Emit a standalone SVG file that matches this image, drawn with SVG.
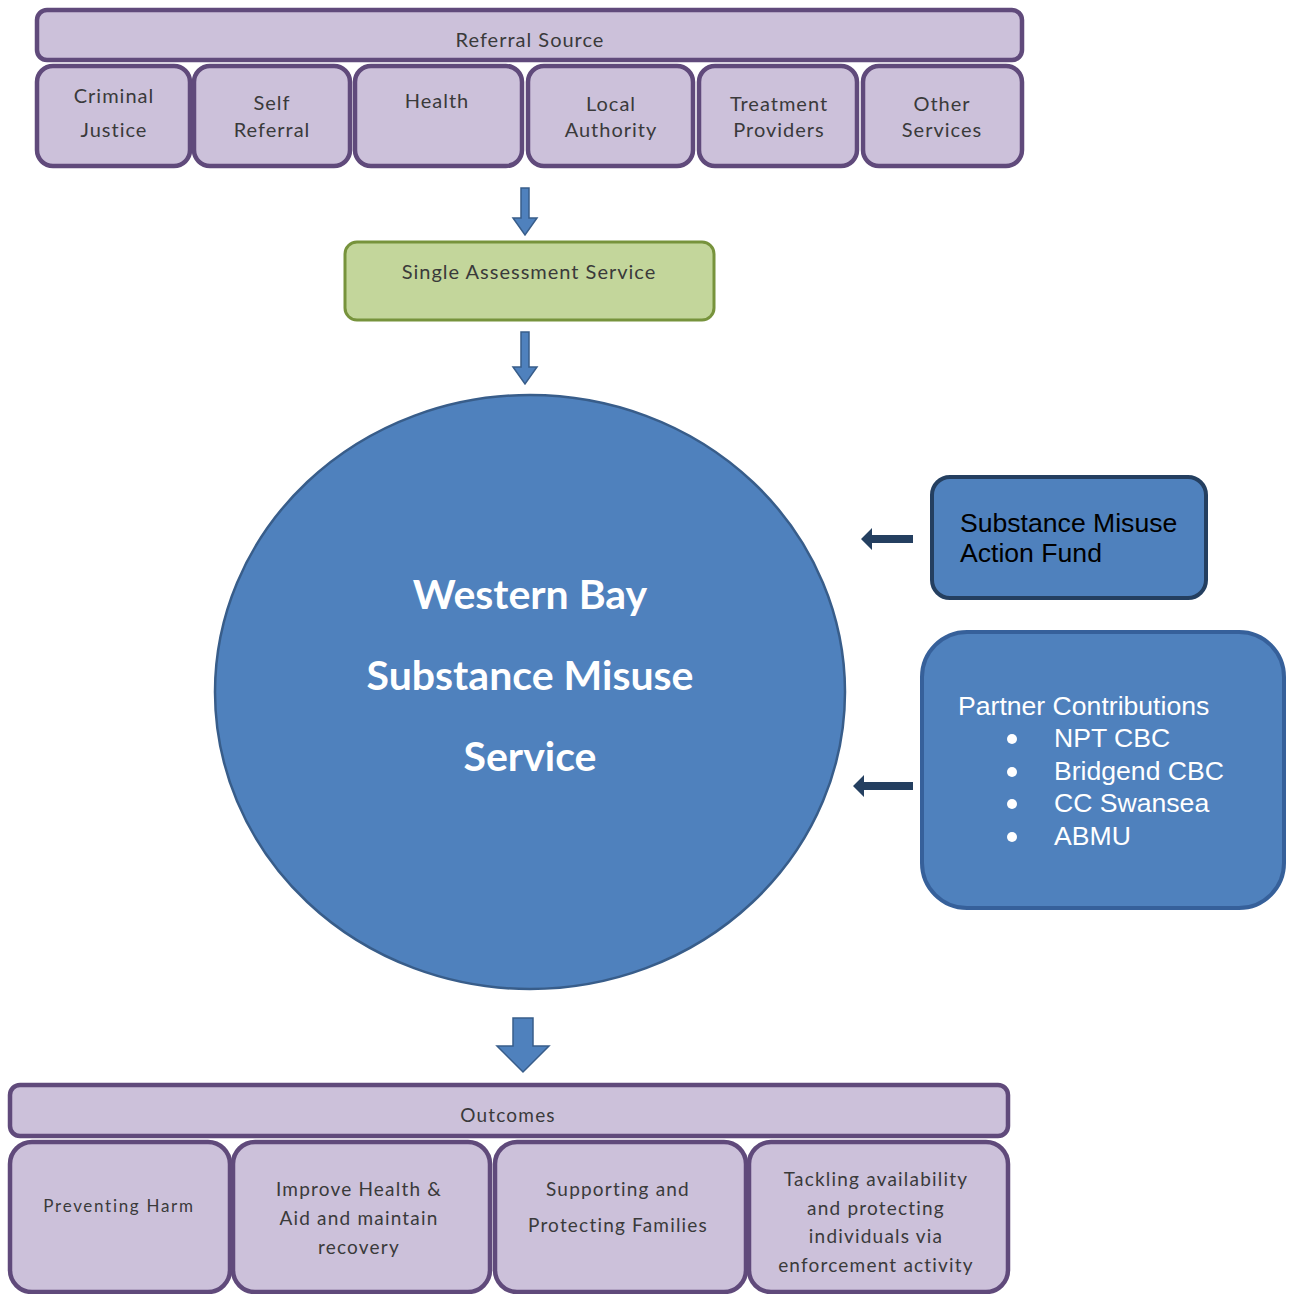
<svg xmlns="http://www.w3.org/2000/svg" width="1294" height="1294" viewBox="0 0 1294 1294">
<defs>
<style>
.pur{fill:#CCC1DA;stroke:#604A7B;stroke-width:4.5}
.pt{font-family:Lato,"Open Sans",sans-serif;font-size:20px;letter-spacing:1px;fill:#3a3a3a;text-anchor:middle}
.ot{font-family:Lato,"Open Sans",sans-serif;font-size:19px;letter-spacing:1.2px;fill:#3a3a3a;text-anchor:middle}
.barrow{fill:#4F81BD;stroke:#385D8A;stroke-width:1.5}
.darrow{fill:#243F60}
.wt{font-family:Lato,"Open Sans",sans-serif;font-weight:bold;font-size:41px;fill:#fff;text-anchor:middle}
.at{font-family:"Liberation Sans",Arial,sans-serif;font-size:26.6px}
</style>
</defs>
<rect width="1294" height="1294" fill="#fff"/>
<g id="referral-source">
<rect class="pur" x="37" y="10" width="985" height="50" rx="10"/>
<text class="pt" x="530" y="47">Referral Source</text>
</g>
<g id="criminal-justice"><rect class="pur" x="37" y="66" width="153" height="100" rx="16"/><text class="pt" x="114" y="103">Criminal</text><text class="pt" x="114" y="137">Justice</text></g>
<g id="self-referral"><rect class="pur" x="194" y="66" width="156" height="100" rx="16"/><text class="pt" x="272" y="110">Self</text><text class="pt" x="272" y="137">Referral</text></g>
<g id="health"><rect class="pur" x="355" y="66" width="167" height="100" rx="16"/><text class="pt" x="437" y="108">Health</text></g>
<g id="local-authority"><rect class="pur" x="528" y="66" width="165" height="100" rx="16"/><text class="pt" x="611" y="111">Local</text><text class="pt" x="611" y="137">Authority</text></g>
<g id="treatment-providers"><rect class="pur" x="699" y="66" width="158" height="100" rx="16"/><text class="pt" x="779" y="111">Treatment</text><text class="pt" x="779" y="137">Providers</text></g>
<g id="other-services"><rect class="pur" x="863" y="66" width="159" height="100" rx="16"/><text class="pt" x="942" y="111">Other</text><text class="pt" x="942" y="137">Services</text></g>
<g id="single-assessment">
<rect x="345" y="242" width="369" height="78" rx="12" fill="#C3D69B" stroke="#77933C" stroke-width="3"/>
<text x="529" y="279" style="font-family:Lato,'Open Sans',sans-serif;font-size:20px;letter-spacing:1px;fill:#3a3a3a;text-anchor:middle">Single Assessment Service</text>
</g>
<g id="western-bay">
<ellipse cx="530" cy="692" rx="315" ry="297" fill="#4F81BD" stroke="#385D8A" stroke-width="2.5"/>
<text class="wt" x="530" y="609">Western Bay</text>
<text class="wt" x="530" y="690">Substance Misuse</text>
<text class="wt" x="530" y="771">Service</text>
</g>
<g id="action-fund">
<rect x="932" y="477" width="274" height="121" rx="18" fill="#4F81BD" stroke="#243F60" stroke-width="4"/>
<text class="at" x="960" y="532" fill="#000">Substance Misuse</text>
<text class="at" x="960" y="562" fill="#000">Action Fund</text>
</g>
<g id="partner-contributions">
<rect x="922" y="632" width="362" height="276" rx="45" fill="#4F81BD" stroke="#36609A" stroke-width="4"/>
<text class="at" x="958" y="715" fill="#fff">Partner Contributions</text>
<g fill="#fff">
<circle cx="1012" cy="739" r="5"/><circle cx="1012" cy="772" r="5"/><circle cx="1012" cy="804" r="5"/><circle cx="1012" cy="837" r="5"/>
</g>
<text class="at" x="1054" y="747" fill="#fff">NPT CBC</text>
<text class="at" x="1054" y="780" fill="#fff">Bridgend CBC</text>
<text class="at" x="1054" y="812" fill="#fff">CC Swansea</text>
<text class="at" x="1054" y="845" fill="#fff">ABMU</text>
</g>
<g id="outcomes">
<rect class="pur" x="10" y="1085" width="998" height="51" rx="10"/>
<text class="ot" x="508" y="1122">Outcomes</text>
</g>
<g id="preventing-harm"><rect class="pur" x="10" y="1142" width="220" height="150" rx="22"/><text class="ot" x="119" y="1212" style="font-size:17px;letter-spacing:1.7px">Preventing Harm</text></g>
<g id="improve-health"><rect class="pur" x="233" y="1142" width="257" height="150" rx="22"/><text class="ot" x="359" y="1196">Improve Health &amp;</text><text class="ot" x="359" y="1225">Aid and maintain</text><text class="ot" x="359" y="1254">recovery</text></g>
<g id="supporting-families"><rect class="pur" x="495" y="1142" width="251" height="150" rx="22"/><text class="ot" x="618" y="1196">Supporting and</text><text class="ot" x="618" y="1232">Protecting Families</text></g>
<g id="tackling"><rect class="pur" x="749" y="1142" width="259" height="150" rx="22"/><text class="ot" x="876" y="1186">Tackling availability</text><text class="ot" x="876" y="1215">and protecting</text><text class="ot" x="876" y="1243">individuals via</text><text class="ot" x="876" y="1272">enforcement activity</text></g>
<g id="connectors">
<path class="barrow" d="M521,188 H529 V218 H537 L525,235 L513,218 H521 Z"/>
<path class="barrow" d="M521,332 H529 V367 H537 L525,384 L513,367 H521 Z"/>
<path class="barrow" d="M513,1018 H533 V1046 H549 L523,1072 L497,1046 H513 Z"/>
<path class="darrow" d="M913,535 V543 H872 V550 L861,539 L872,528 V535 Z"/>
<path class="darrow" d="M913,782 V790 H864 V797 L853,786 L864,775 V782 Z"/>
</g>
</svg>
